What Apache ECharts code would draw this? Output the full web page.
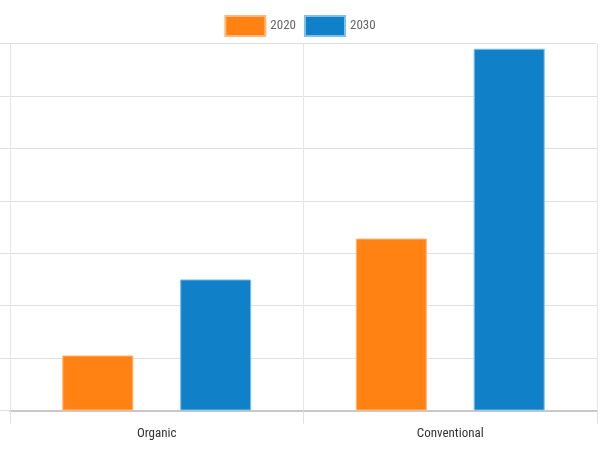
<!DOCTYPE html>
<html lang="en">
<head>
    <meta charset="UTF-8">
    <title>Organic vs Conventional</title>
    <script src="https://cdn.jsdelivr.net/npm/echarts@6/dist/echarts.min.js"></script>
    <style>
        * { margin: 0; padding: 0; box-sizing: border-box; }
        html, body { width: 600px; height: 452px; background: #fff; }
        #chart { width: 600px; height: 452px; }
    </style>
</head>
<body>
    <div id="chart"></div>
    <script>
        // data
        const categories = ['Organic', 'Conventional'];
        const seriesNames = ['2020', '2030'];
        const values2020 = [10.5, 32.8];
        const values2030 = [25, 69];
        const yMax = 70;
        const yStep = 10;

        const font = '"Roboto Condensed", Roboto, sans-serif';

        const chart = echarts.init(document.getElementById('chart'));
        chart.setOption({
            animation: false,
            color: ['#FF8213', '#1081C9'],
            legend: {
                data: seriesNames,
                icon: 'rect',
                top: 10,
                left: 'center',
                itemWidth: 40,
                itemHeight: 20,
                itemGap: 8,
                textStyle: { color: '#666', fontSize: 13, fontFamily: font }
            },
            grid: {
                left: 10,
                right: 3,
                top: 43.5,
                bottom: 41.5,
                containLabel: false
            },
            xAxis: {
                type: 'category',
                data: categories,
                axisLine: { lineStyle: { color: '#c8c8c8', width: 2 } },
                axisTick: { show: true, length: 13, lineStyle: { color: '#e0e0e0' } },
                splitLine: { show: true, lineStyle: { color: '#e6e6e6' } },
                axisLabel: { color: '#333', fontSize: 13, fontFamily: font, margin: 17 }
            },
            yAxis: {
                type: 'value',
                min: 0,
                max: yMax,
                interval: yStep,
                axisLine: { show: false },
                axisTick: { show: true, length: 10, lineStyle: { color: '#e0e0e0' } },
                axisLabel: { show: false },
                splitLine: { lineStyle: { color: '#e0e0e0' } }
            },
            series: [
                {
                    name: seriesNames[0],
                    type: 'bar',
                    data: values2020,
                    barWidth: 71,
                    barGap: '66%',
                    itemStyle: { borderColor: '#FFB878', borderWidth: 1 }
                },
                {
                    name: seriesNames[1],
                    type: 'bar',
                    data: values2030,
                    barWidth: 71,
                    itemStyle: { borderColor: '#7CC0EC', borderWidth: 1 }
                }
            ]
        });
    </script>
</body>
</html>
